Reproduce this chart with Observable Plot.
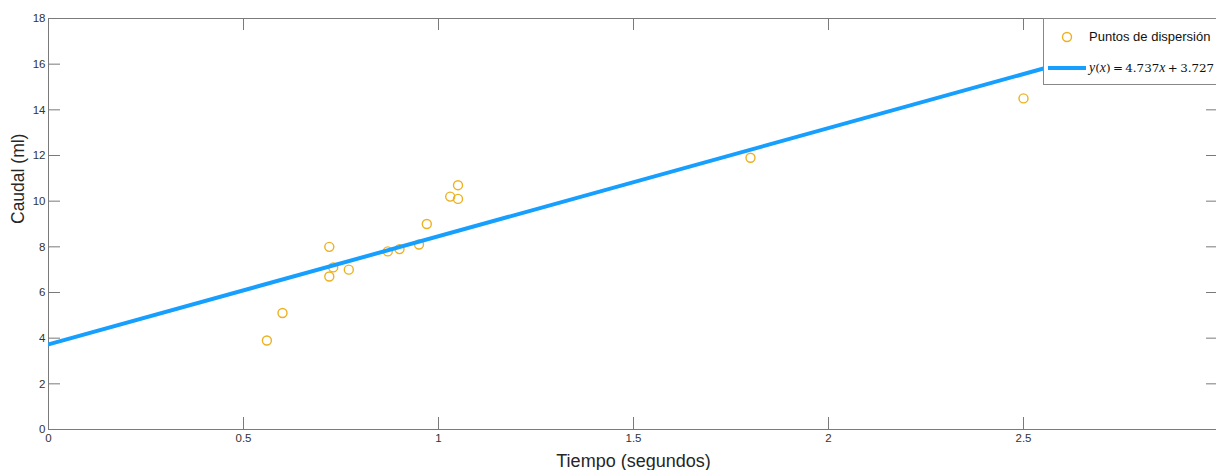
<!DOCTYPE html>
<html><head><meta charset="utf-8">
<script src="https://cdn.jsdelivr.net/npm/d3@7"></script>
<script src="https://cdn.jsdelivr.net/npm/@observablehq/plot@0.6"></script>
<style>
html,body{margin:0;padding:0;background:#fff;overflow:hidden}
#wrap{position:relative;width:1216px;height:470px;overflow:hidden}
#legend{position:absolute;left:1043px;top:18px;width:200px;height:67px;border:1px solid #888;background:#fff;box-sizing:border-box;font-family:"Liberation Sans",Arial,sans-serif;color:#111}
#legend .item{position:absolute;left:45px;white-space:nowrap;line-height:1}
#legend svg{position:absolute;left:0;top:0}
</style></head>
<body><div id="wrap"></div>
<script>
// Data
const tiempo = [0.56, 0.60, 0.72, 0.73, 0.72, 0.77, 0.87, 0.90, 0.95, 0.97, 1.03, 1.05, 1.05, 1.80, 2.50];
const caudal = [3.9, 5.1, 8.0, 7.1, 6.7, 7.0, 7.8, 7.9, 8.1, 9.0, 10.2, 10.7, 10.1, 11.9, 14.5];
const slope = 4.737;
const intercept = 3.727;
const fitX = [0, 3];
const xTicks = [0, 0.5, 1, 1.5, 2, 2.5];
const xTickLabels = ["0", "0.5", "1", "1.5", "2", "2.5"];
const yTicks = [0, 2, 4, 6, 8, 10, 12, 14, 16, 18];
const yTickLabels = ["0", "2", "4", "6", "8", "10", "12", "14", "16", "18"];
const xLabel = "Tiempo (segundos)";
const yLabel = "Caudal (ml)";
const legendLabels = ["Puntos de dispersión", "y(x) = 4.737x + 3.727"];

const points = tiempo.map((t, i) => ({t, c: caudal[i]}));
const fit = fitX.map(t => ({t, c: slope * t + intercept}));

const W = 1216, H = 470;
const mL = 48, mT = 18, mB = 41, mR = -2;
const frameW = W - mL - mR, frameH = H - mT - mB;
const tickLen = 12;
const dotColor = "#EDB120";
const lineColor = "#169FFF";
const axisColor = "#7a7a7a";
const font = "'Liberation Sans', Arial, Helvetica, sans-serif";

const chart = Plot.plot({
  width: W, height: H,
  marginLeft: mL, marginTop: mT, marginBottom: mB, marginRight: mR,
  style: {fontFamily: font, background: "#fff", overflow: "visible"},
  x: {domain: [0, 3], axis: null},
  y: {domain: [0, 18], axis: null},
  marks: [
    Plot.frame({stroke: axisColor, strokeWidth: 1}),
    // inward ticks on all four sides
    Plot.ruleX(xTicks, {x: d => d, stroke: axisColor, insetTop: frameH - tickLen}),
    Plot.ruleX(xTicks, {x: d => d, stroke: axisColor, insetBottom: frameH - tickLen}),
    Plot.ruleY(yTicks, {y: d => d, stroke: axisColor, insetRight: frameW - tickLen}),
    Plot.ruleY(yTicks, {y: d => d, stroke: axisColor, insetLeft: frameW - tickLen}),
    // tick labels
    Plot.text(xTicks, {x: d => d, text: (d, i) => xTickLabels[i], frameAnchor: "bottom", lineAnchor: "top", dy: 4, fontSize: 11.5, fill: "#333"}),
    Plot.text(yTicks, {y: d => d, text: (d, i) => yTickLabels[i], frameAnchor: "left", textAnchor: "end", dx: -3, fontSize: 11.5, fill: "#333"}),
    // axis labels
    Plot.text([xLabel], {text: d => d, frameAnchor: "bottom", dy: 32, lineAnchor: "middle", fontSize: 18, fill: "#262626"}),
    Plot.text([yLabel], {text: d => d, frameAnchor: "left", dx: -30, rotate: -90, fontSize: 17.5, fill: "#262626"}),
    // data
    Plot.dot(points, {x: "t", y: "c", r: 4.5, stroke: dotColor, strokeWidth: 1.4, fill: "none"}),
    Plot.line(fit, {x: "t", y: "c", stroke: lineColor, strokeWidth: 4, clip: true})
  ]
});

const wrap = document.getElementById("wrap");
wrap.appendChild(chart);

// Legend
const legend = document.createElement("div");
legend.id = "legend";
legend.innerHTML = `
<svg width="60" height="67">
  <circle cx="23" cy="18" r="4.5" fill="none" stroke="${dotColor}" stroke-width="1.4"></circle>
  <line x1="4" x2="42" y1="49" y2="49" stroke="${lineColor}" stroke-width="4"></line>
</svg>
<div class="item" style="top:11px;font-size:13px">${legendLabels[0]}</div>
<div class="item" style="top:42px;font-size:11.9px;font-family:'DejaVu Serif','Liberation Serif',serif" id="eq"></div>`;
wrap.appendChild(legend);
// typeset the equation: italic variables, upright numbers
const eq = legend.querySelector("#eq");
eq.innerHTML = legendLabels[1]
  .replace(/([a-z])/g, '<i style="font-family:\'Liberation Serif\',serif;font-size:13.8px">$1</i>')
  .replace(/ = /, '&thinsp;=&thinsp;').replace(/ \+ /, '&thinsp;+&thinsp;');
</script>
</body></html>
